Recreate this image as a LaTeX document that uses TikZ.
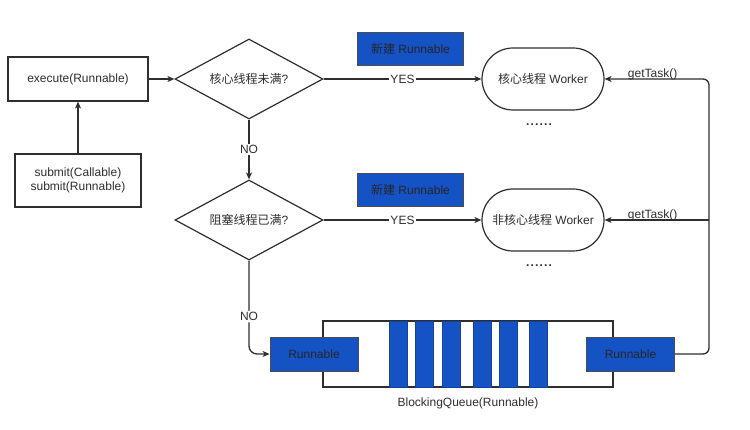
\documentclass[tikz,border=0pt]{standalone}
\usepackage{fontspec}
\setmainfont{Liberation Sans}
\newfontfamily\cjk{Noto Sans CJK SC}
\usetikzlibrary{shapes.geometric,arrows.meta}
\definecolor{qblue}{HTML}{1552C4}
\definecolor{ink}{HTML}{2E2E2E}
\begin{document}
\begin{tikzpicture}[x=1pt,y=-1pt,font=\fontsize{12}{14}\selectfont,
  box/.style={draw=ink,line width=1.2pt,fill=white,text=ink,inner sep=0pt},
  bluebox/.style={draw=black!70,line width=0.9pt,fill=qblue,text=black!85,inner sep=0pt},
  bar/.style={fill=qblue,draw=qblue!80!black,line width=0.4pt,minimum width=18pt,minimum height=66pt,inner sep=0pt},
  dec/.style={diamond,aspect=2,draw=ink,line width=1.2pt,fill=white,inner sep=0pt,minimum width=148pt,minimum height=80pt,text=ink},
  worker/.style={draw=ink,line width=1.2pt,fill=white,rounded corners=31pt,minimum width=122pt,minimum height=62pt,text=ink},
  conn/.style={draw=ink,line width=1.3pt,-{Stealth[length=7pt,width=6pt,inset=2pt]}},
  lbl/.style={fill=white,text=ink,inner sep=1.5pt},
  tasklbl/.style={anchor=base,yshift=1.5pt,text=ink,inner sep=0pt}]
\useasboundingbox (0,0) rectangle (750,430);

% left column
\node[box,minimum width=140pt,minimum height=44pt] (exec) at (78,79) {execute(Runnable)};
\node[box,minimum width=126pt,minimum height=53pt,align=center] (submit) at (78,180.5) {submit(Callable)\\submit(Runnable)};

% decisions
\node[dec] (d1) at (249,79) {{\cjk 核心线程未满}?};
\node[dec] (d2) at (249,220) {{\cjk 阻塞线程已满}?};

% new runnable tags
\node[bluebox,minimum width=106pt,minimum height=33pt] (n1) at (410.5,49) {{\cjk 新建} Runnable};
\node[bluebox,minimum width=106pt,minimum height=33pt] (n2) at (410.5,189.5) {{\cjk 新建} Runnable};

% workers
\node[worker] (w1) at (543,79) {{\cjk 核心线程} Worker};
\node[worker] (w2) at (543,220) {{\cjk 非核心线程} Worker};
\node[text=ink] (dots1) at (539,125) {\textbf{.\kern1.2pt.\kern1.2pt.\kern1.2pt.\kern1.2pt.\kern1.2pt.}};
\node[text=ink] (dots2) at (539,266) {\textbf{.\kern1.2pt.\kern1.2pt.\kern1.2pt.\kern1.2pt.\kern1.2pt.}};

% queue
\node[box,minimum width=290pt,minimum height=66pt] (q) at (468,354) {};
\node[bar] (b1) at (398,354) {};
\node[bar] (b2) at (424,354) {};
\node[bar] (b3) at (451,354) {};
\node[bar] (b4) at (482,354) {};
\node[bar] (b5) at (508,354) {};
\node[bar] (b6) at (538,354) {};
\node[bluebox,minimum width=88pt,minimum height=34pt] (rL) at (314,354) {Runnable};
\node[bluebox,minimum width=88pt,minimum height=34pt] (rR) at (630.5,354) {Runnable};
\node[text=ink] (ql) at (468,403) {BlockingQueue(Runnable)};

% connectors
\draw[conn] (submit.north) -- (exec.south);
\draw[conn] (exec.east) -- (d1.west);
\draw[conn] (d1.east) -- node[lbl] {YES} (w1.west);
\draw[conn] (d2.east) -- node[lbl] {YES} (w2.west);
\draw[conn] (d1.south) -- node[lbl] {NO} (d2.north);
\draw[conn,rounded corners=8pt] (d2.south) |- node[lbl,pos=0.3] {NO} (rL.west);
\coordinate (ctop) at (709,79);
\coordinate (cmid) at (709,220);
\draw[conn,rounded corners=6pt] (rR.east) -| (ctop) -- node[tasklbl,pos=0.54] {getTask()} (w1.east);
\draw[conn] (cmid) -- node[tasklbl,pos=0.54] {getTask()} (w2.east);
\end{tikzpicture}
\end{document}
